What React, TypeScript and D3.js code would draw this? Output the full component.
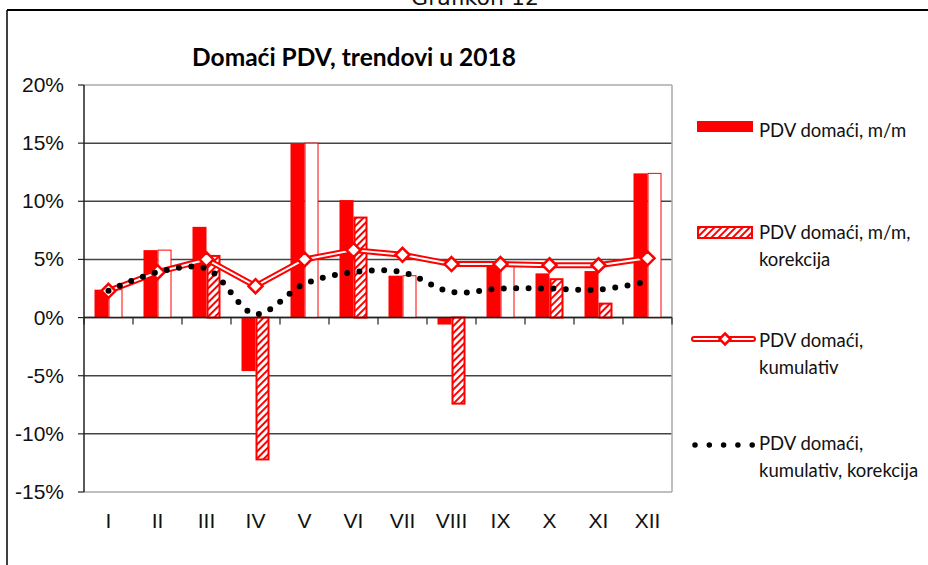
import React from 'react';
import * as d3 from 'd3';

const months = ['I', 'II', 'III', 'IV', 'V', 'VI', 'VII', 'VIII', 'IX', 'X', 'XI', 'XII'];
const mmValues = [2.4, 5.8, 7.8, -4.6, 15.0, 10.1, 3.6, -0.6, 4.4, 3.8, 4.0, 12.4];
const mmCorrValues = [2.4, 5.8, 5.3, -12.2, 15.0, 8.6, 3.6, -7.4, 4.4, 3.3, 1.2, 12.4];
const cumValues = [2.3, 3.9, 5.0, 2.7, 5.0, 5.8, 5.4, 4.6, 4.6, 4.5, 4.5, 5.1];
const cumCorrValues = [2.3, 3.9, 4.2, 0.3, 2.9, 3.9, 3.9, 2.2, 2.5, 2.5, 2.4, 3.1];
const yTicks = [-15, -10, -5, 0, 5, 10, 15, 20];
const legendLabels = [
  ['PDV domaći, m/m'],
  ['PDV domaći, m/m,', 'korekcija'],
  ['PDV domaći,', 'kumulativ'],
  ['PDV domaći,', 'kumulativ, korekcija'],
];

const RED = '#ff0000';
const CAL = 'Lato, "Open Sans", sans-serif';
const ARIAL = '"Liberation Sans", Arial, sans-serif';

export default function App() {
  const W = 928, H = 565;
  const plot = { left: 84, right: 672, top: 85, bottom: 492 };
  const x = d3.scaleBand<string>().domain(months).range([plot.left, plot.right]).padding(0);
  const y = d3.scaleLinear().domain([-15, 20]).range([plot.bottom, plot.top]);
  const groupW = 28;
  const sub = d3.scaleBand<string>().domain(['mm', 'corr']).range([0, groupW]);
  const off = (x.bandwidth() - groupW) / 2;
  const cx = (m: string) => (x(m) as number) + x.bandwidth() / 2;

  const straight = d3.line<number>().x((_, i) => cx(months[i])).y((d) => y(d));
  const smooth = d3
    .line<number>()
    .x((_, i) => cx(months[i]))
    .y((d) => y(d))
    .curve(d3.curveCatmullRom.alpha(0.5));

  const diamond = (px: number, py: number, r: number) =>
    `M${px},${py - r}L${px + r},${py}L${px},${py + r}L${px - r},${py}Z`;

  const legX0 = 695, legX1 = 753, legTextX = 759;

  return (
    <svg
      width={W}
      height={H}
      style={{ position: 'absolute', left: 0, top: 0, background: '#fff' }}
    >
      <defs>
        <pattern id="hatch" patternUnits="userSpaceOnUse" width="5" height="5" patternTransform="rotate(45)">
          <rect width="5" height="5" fill="#fff" />
          <rect width="2" height="5" fill={RED} />
        </pattern>
      </defs>
      <rect width={W} height={H} fill="#fff" />
      {/* page caption & frame */}
      <text x={475} y={5} textAnchor="middle" fontFamily='"DejaVu Sans", sans-serif' fontSize={22} fill="#111">
        Grafikon 12
      </text>
      <line x1={7} x2={W} y1={10} y2={10} stroke="#000" strokeWidth={2} />
      <line x1={7} x2={7} y1={10} y2={H} stroke="#000" strokeWidth={1.5} />

      {/* title */}
      <text x={354} y={66} textAnchor="middle" fontFamily={CAL} fontWeight="bold" fontSize={24.5} fill="#000">
        Domaći PDV, trendovi u 2018
      </text>

      {/* grid */}
      {yTicks.map((t) => {
        const edge = t === 20 || t === -15;
        return (
          <line
            key={'g' + t}
            x1={plot.left}
            x2={plot.right}
            y1={y(t)}
            y2={y(t)}
            stroke={edge ? '#aaa' : '#444'}
            strokeWidth={1.5}
          />
        );
      })}
      <line x1={plot.right} x2={plot.right} y1={plot.top} y2={plot.bottom} stroke="#aaa" strokeWidth={1.5} />

      {/* y axis */}
      <line x1={plot.left} x2={plot.left} y1={plot.top} y2={plot.bottom} stroke="#222" strokeWidth={1.5} />
      {yTicks.map((t) => (
        <g key={'yt' + t}>
          <line x1={plot.left - 6} x2={plot.left} y1={y(t)} y2={y(t)} stroke="#222" strokeWidth={1.2} />
          <text x={64} y={y(t) + 7} textAnchor="end" fontFamily={ARIAL} fontSize={21} fill="#111">
            {t}%
          </text>
        </g>
      ))}

      {/* bars */}
      {months.map((m, i) => {
        const x0 = (x(m) as number) + off;
        const v1 = mmValues[i];
        const v2 = mmCorrValues[i];
        const same = v1 === v2;
        const bx1 = x0 + (sub('mm') as number);
        const bx2 = x0 + (sub('corr') as number);
        const bw = sub.bandwidth();
        return (
          <g key={'b' + m}>
            <rect x={bx1} y={Math.min(y(v1), y(0))} width={bw} height={Math.abs(y(v1) - y(0))} fill={RED} />
            {same ? (
              <rect
                x={bx2 + 0.5}
                y={Math.min(y(v2), y(0))}
                width={bw - 1}
                height={Math.abs(y(v2) - y(0))}
                fill="#fff"
                stroke={RED}
                strokeWidth={1}
              />
            ) : (
              <rect
                x={bx2 + 1}
                y={Math.min(y(v2), y(0))}
                width={bw - 2}
                height={Math.abs(y(v2) - y(0))}
                fill="url(#hatch)"
                stroke={RED}
                strokeWidth={2}
              />
            )}
          </g>
        );
      })}

      {/* x axis */}
      <line x1={plot.left} x2={plot.right} y1={y(0)} y2={y(0)} stroke="#222" strokeWidth={1.5} />
      {months.concat(['end']).map((m, i) => {
        const px = plot.left + i * x.step();
        return <line key={'xt' + i} x1={px} x2={px} y1={y(0)} y2={y(0) + 7} stroke="#222" strokeWidth={1.2} />;
      })}
      {months.map((m) => (
        <text key={'xl' + m} x={cx(m)} y={528} textAnchor="middle" fontFamily={ARIAL} fontSize={21} fill="#111">
          {m}
        </text>
      ))}

      {/* cumulative line */}
      <path d={straight(cumValues) as string} fill="none" stroke={RED} strokeWidth={6} strokeLinejoin="round" />
      <path d={straight(cumValues) as string} fill="none" stroke="#fff" strokeWidth={2} strokeLinejoin="round" />
      {cumValues.map((v, i) => (
        <path key={'d' + i} d={diamond(cx(months[i]), y(v), 7)} fill="#fff" stroke={RED} strokeWidth={2.5} />
      ))}

      {/* corrected cumulative dotted */}
      <path
        d={smooth(cumCorrValues) as string}
        fill="none"
        stroke="#000"
        strokeWidth={6}
        strokeLinecap="round"
        strokeDasharray="0 12.4"
      />

      {/* legend */}
      <rect x={legX0 + 2} y={121} width={legX1 - legX0 - 2} height={11} fill={RED} />
      <rect x={legX0 + 3} y={227} width={legX1 - legX0 - 4} height={11} fill="url(#hatch)" stroke={RED} strokeWidth={2} />
      <line x1={legX0 - 1} x2={legX1} y1={339} y2={339} stroke={RED} strokeWidth={6} strokeLinecap="round" />
      <line x1={legX0 - 1} x2={legX1} y1={339} y2={339} stroke="#fff" strokeWidth={2} strokeLinecap="round" />
      <path d={diamond(725, 339, 5.5)} fill="#fff" stroke={RED} strokeWidth={2.5} />
      <line
        x1={legX0}
        x2={legX1 + 1}
        y1={445}
        y2={445}
        stroke="#000"
        strokeWidth={5.5}
        strokeLinecap="round"
        strokeDasharray="0 14.3"
      />
      {[
        [legendLabels[0], 137],
        [legendLabels[1], 239],
        [legendLabels[2], 347],
        [legendLabels[3], 450],
      ].map(([lines, by], k) => (
        <text key={'lg' + k} fontFamily={CAL} fontSize={18.5} fill="#111">
          {(lines as string[]).map((ln, j) => (
            <tspan key={j} x={legTextX} y={(by as number) + j * 27}>
              {ln}
            </tspan>
          ))}
        </text>
      ))}
    </svg>
  );
}
